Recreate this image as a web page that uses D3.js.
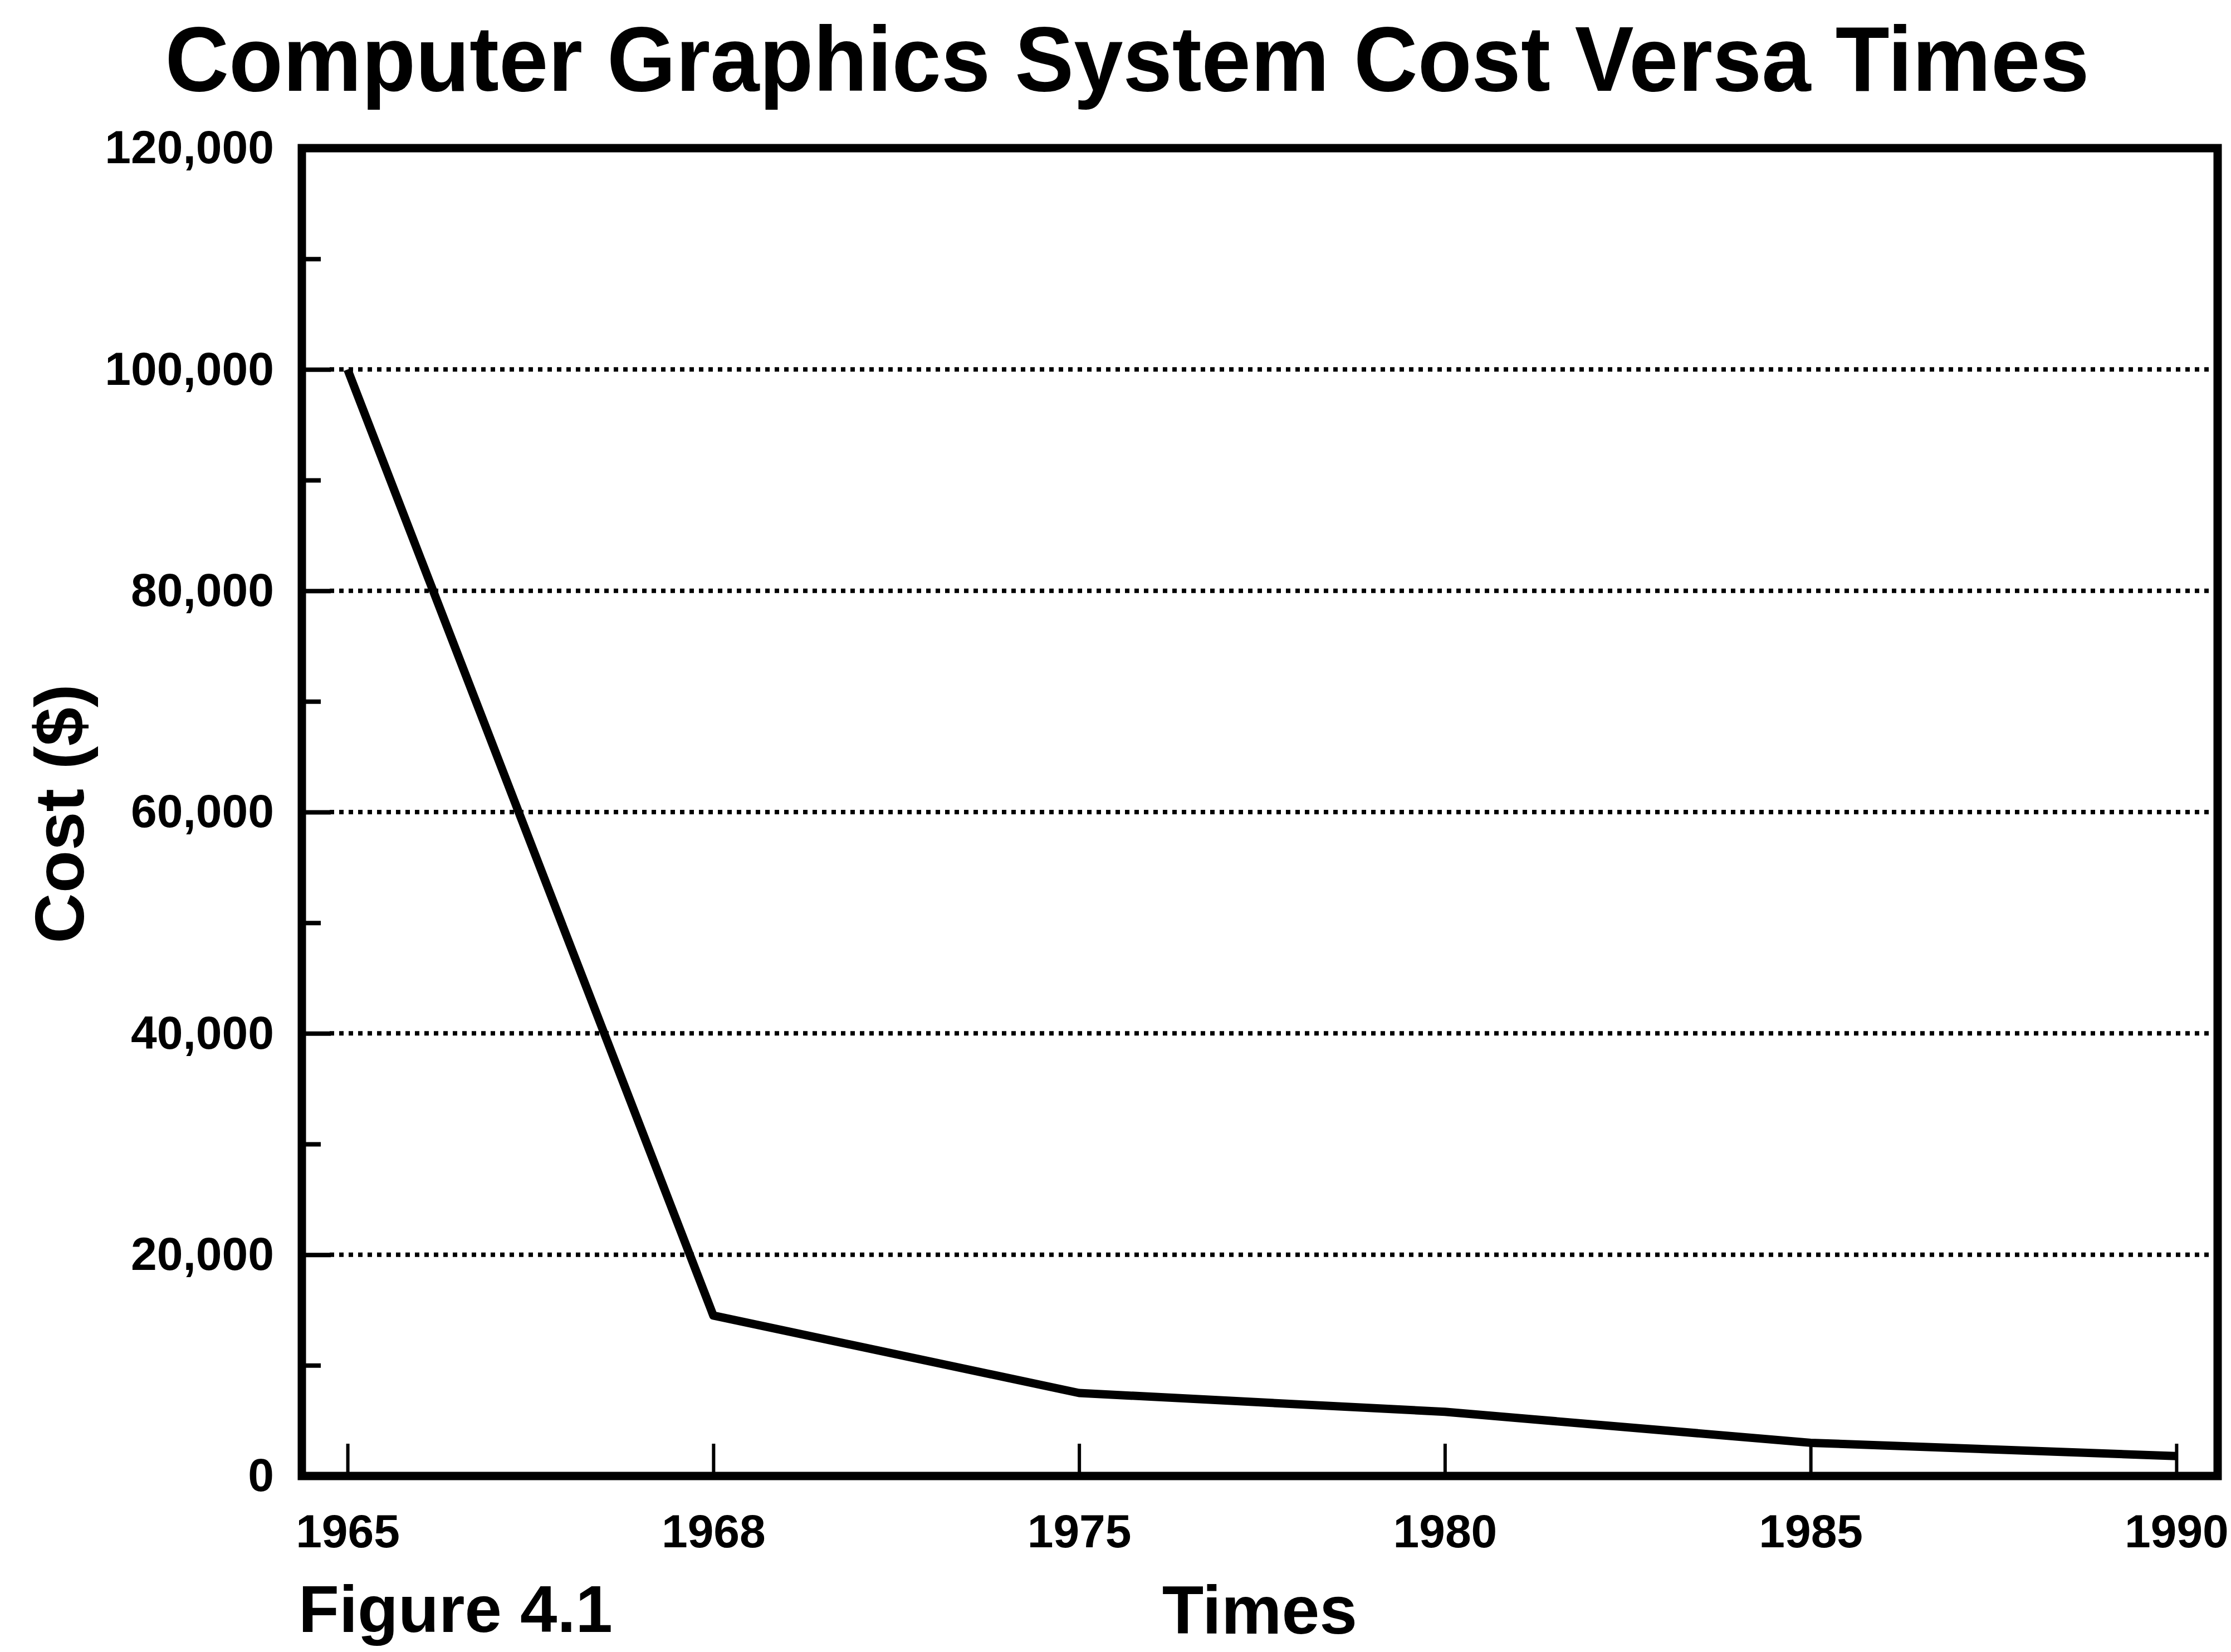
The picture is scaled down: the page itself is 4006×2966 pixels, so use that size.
<!DOCTYPE html>
<html>
<head>
<meta charset="utf-8">
<script src="https://cdn.jsdelivr.net/npm/d3@7"></script>
<style>
  html, body { margin: 0; padding: 0; background: #fff; }
  text { font-family: "Liberation Sans", Arial, Helvetica, sans-serif; font-weight: 700; fill: #000; }
</style>
</head>
<body>
<div id="chart"></div>
<script>
// data
const years = ["1965", "1968", "1975", "1980", "1985", "1990"];
const costs = [100000, 14500, 7500, 5800, 3000, 1800];
const majorTicks = [0, 20000, 40000, 60000, 80000, 100000, 120000];
const minorTicks = [10000, 30000, 50000, 70000, 90000, 110000];
const gridValues = [20000, 40000, 60000, 80000, 100000];

const W = 4006, H = 2966;
const margin = { top: 266, right: 16, bottom: 316, left: 542 };
const width = W - margin.left - margin.right;
const height = H - margin.top - margin.bottom;

const root = d3.select("#chart")
  .append("svg")
  .attr("width", W)
  .attr("height", H);

// title
root.append("text")
  .attr("x", 2024)
  .attr("y", 163)
  .attr("text-anchor", "middle")
  .attr("font-size", 165)
  .attr("textLength", 3455)
  .attr("lengthAdjust", "spacingAndGlyphs")
  .text("Computer Graphics System Cost Versa Times");

const svg = root.append("g")
  .attr("transform", `translate(${margin.left},${margin.top})`);

const x = d3.scalePoint()
  .domain(years)
  .range([0, width])
  .padding(0.125);

const y = d3.scaleLinear()
  .domain([0, 120000])
  .range([height, 0]);

// dotted grid lines
svg.append("g")
  .selectAll("line")
  .data(gridValues)
  .join("line")
  .attr("x1", 50)
  .attr("x2", width - 14)
  .attr("y1", (d) => y(d))
  .attr("y2", (d) => y(d))
  .attr("stroke", "#000")
  .attr("stroke-width", 8)
  .attr("stroke-dasharray", "8,9");

// minor y ticks (inside)
svg.append("g")
  .call(d3.axisLeft(y).tickValues(minorTicks).tickSize(-34).tickFormat(""))
  .call((g) => g.select(".domain").remove())
  .selectAll("line")
  .attr("stroke-width", 8);

// major y ticks and labels
svg.append("g")
  .call(
    d3.axisLeft(y)
      .tickValues(majorTicks)
      .tickSizeInner(-52)
      .tickSizeOuter(0)
      .tickPadding(50)
      .tickFormat(d3.format(","))
  )
  .call((g) => g.select(".domain").remove())
  .call((g) => g.selectAll("line").attr("stroke-width", 8))
  .call((g) =>
    g.selectAll("text")
      .attr("font-size", 84)
      .attr("font-family", "Liberation Sans, Arial, sans-serif")
      .attr("font-weight", 700)
  );

// x ticks (pointing up) and labels
svg.append("g")
  .attr("transform", `translate(0,${height})`)
  .call(d3.axisBottom(x).tickSizeInner(-58).tickSizeOuter(0).tickPadding(68))
  .call((g) => g.select(".domain").remove())
  .call((g) => g.selectAll("line").attr("stroke-width", 6))
  .call((g) =>
    g.selectAll("text")
      .attr("font-size", 84)
      .attr("font-family", "Liberation Sans, Arial, sans-serif")
      .attr("font-weight", 700)
  );

// frame
svg.append("rect")
  .attr("x", 0)
  .attr("y", 0)
  .attr("width", width - 8)
  .attr("height", height)
  .attr("fill", "none")
  .attr("stroke", "#000")
  .attr("stroke-width", 15);

// cost line
const line = d3.line()
  .x((d, i) => x(years[i]))
  .y((d) => y(d));

svg.append("path")
  .datum(costs)
  .attr("fill", "none")
  .attr("stroke", "#000")
  .attr("stroke-width", 15)
  .attr("stroke-linejoin", "round")
  .attr("d", line);

// axis titles
root.append("text")
  .attr("transform", "translate(150,1461) rotate(-90)")
  .attr("text-anchor", "middle")
  .attr("font-size", 125)
  .text("Cost ($)");

root.append("text")
  .attr("x", 2262)
  .attr("y", 2933)
  .attr("text-anchor", "middle")
  .attr("font-size", 122)
  .text("Times");

root.append("text")
  .attr("x", 536)
  .attr("y", 2930)
  .attr("font-size", 118)
  .attr("textLength", 564)
  .attr("lengthAdjust", "spacingAndGlyphs")
  .text("Figure 4.1");
</script>
</body>
</html>
